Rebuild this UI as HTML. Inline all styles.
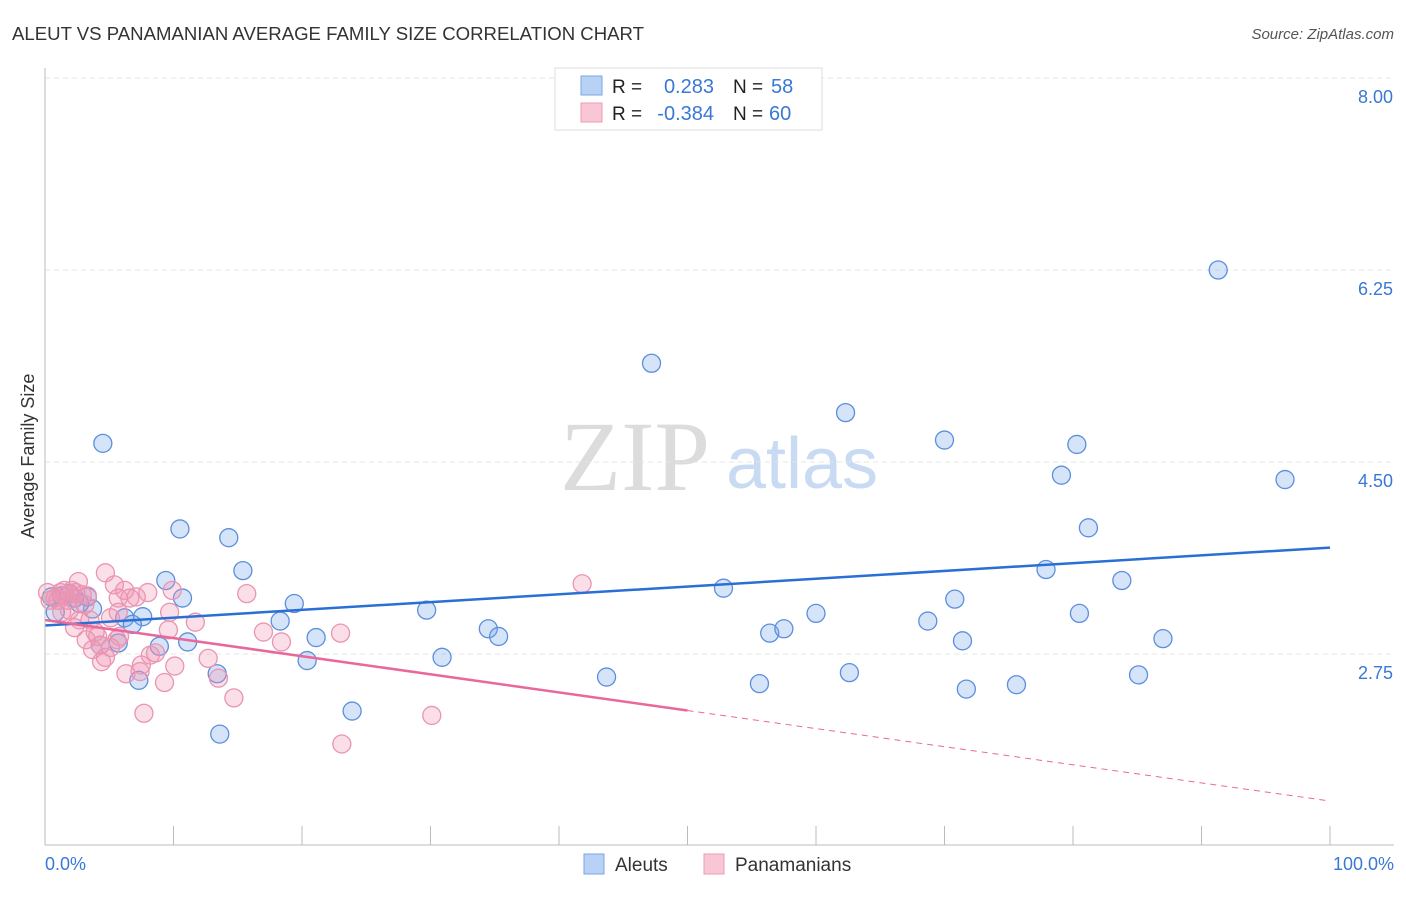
<!DOCTYPE html>
<html><head><meta charset="utf-8"><style>
body{margin:0;background:#fff;font-family:"Liberation Sans",sans-serif;}
svg text{font-family:"Liberation Sans",sans-serif;}
svg text.serif{font-family:"Liberation Serif",serif;}
</style></head><body>
<svg id="c" width="1406" height="892" xmlns="http://www.w3.org/2000/svg">
<text x="12" y="40" font-size="18.6" fill="#333">ALEUT VS PANAMANIAN AVERAGE FAMILY SIZE CORRELATION CHART</text>
<text x="1394" y="39" font-size="15" fill="#555" font-style="italic" text-anchor="end">Source: ZipAtlas.com</text>
<text class="serif" x="635" y="490" font-size="100" fill="#dcdcdc" text-anchor="middle">ZIP</text>
<text x="802" y="488" font-size="72" fill="#c9daf3" text-anchor="middle">atlas</text>
<text transform="translate(34,456) rotate(-90)" font-size="18" fill="#333" text-anchor="middle">Average Family Size</text>
<g id="grid"></g><g id="pts"></g><g id="trend"></g>
<line x1="45" y1="68" x2="45" y2="845" stroke="#bbb"/>
<line x1="45" y1="845" x2="1394" y2="845" stroke="#bbb"/>
<text x="45" y="870" font-size="18" fill="#3a78d6">0.0%</text>
<text x="1394" y="870" font-size="18" fill="#3a78d6" text-anchor="end">100.0%</text>
<g>
<rect x="555" y="68" width="267" height="62" fill="#fff" stroke="#ddd"/>
<rect x="581" y="76" width="21" height="19" fill="#b8d2f5" stroke="#7aa6e4"/>
<rect x="581" y="103" width="21" height="19" fill="#f9c6d5" stroke="#ee9ab3"/>
<text x="612" y="93" font-size="19" fill="#222">R =</text><text x="714" y="93" font-size="20" fill="#3a78d6" text-anchor="end">0.283</text>
<text x="733" y="93" font-size="19" fill="#222">N =</text><text x="771" y="93" font-size="20" fill="#3a78d6">58</text>
<text x="612" y="120" font-size="19" fill="#222">R =</text><text x="714" y="120" font-size="20" fill="#3a78d6" text-anchor="end">-0.384</text>
<text x="733" y="120" font-size="19" fill="#222">N =</text><text x="769" y="120" font-size="20" fill="#3a78d6">60</text>
</g>
<g>
<rect x="584" y="854" width="20" height="20" fill="#b8d2f5" stroke="#7aa6e4"/>
<text x="615" y="871" font-size="19" fill="#333">Aleuts</text>
<rect x="704" y="854" width="20" height="20" fill="#f9c6d5" stroke="#ee9ab3"/>
<text x="735" y="871" font-size="19" fill="#333">Panamanians</text>
</g>
</svg>
<script>
const yTicks=[2.75,4.50,6.25,8.00];
const yTickLabels=["2.75","4.50","6.25","8.00"];
const xTicks=[0,10,20,30,40,50,60,70,80,90,100];
const aleutX=[4.5,10.5,14.3,9.4,15.4,10.7,19.4,6.2,7.6,6.8,18.3,21.1,11.1,8.9,5.7,20.4,7.3,13.4,13.6,23.9,29.7,30.9,34.5,35.3,43.7,47.2,52.8,55.6,56.4,57.5,60.0,62.3,62.6,68.7,70.0,70.8,71.4,71.7,75.6,77.9,79.1,80.3,81.2,80.5,83.8,85.1,87.0,91.3,96.5,0.8,0.5,1.3,1.9,3.3,3.7,4.3,2.7,2.3];
const aleutY=[4.67,3.89,3.81,3.42,3.51,3.26,3.21,3.08,3.09,3.02,3.05,2.90,2.86,2.82,2.85,2.69,2.51,2.57,2.02,2.23,3.15,2.72,2.98,2.91,2.54,5.40,3.35,2.48,2.94,2.98,3.12,4.95,2.58,3.05,4.70,3.25,2.87,2.43,2.47,3.52,4.38,4.66,3.90,3.12,3.42,2.56,2.89,6.25,4.34,3.13,3.27,3.28,3.30,3.27,3.16,2.83,3.21,3.26];
const panX=[0.2,0.8,1.2,1.6,2.1,1.8,2.6,2.9,3.1,3.3,2.7,3.5,3.9,4.1,4.3,3.7,4.4,4.7,4.7,5.4,5.7,6.2,6.6,7.1,8.0,9.9,5.8,5.6,5.7,9.7,9.6,8.2,8.6,7.5,7.4,6.3,9.3,10.1,12.7,11.7,13.5,14.7,7.7,15.7,17.0,18.4,23.0,23.1,30.1,41.8,1.3,1.9,2.3,3.2,5.1,1.0,0.4,1.5,2.4,5.1];
const panY=[3.31,3.26,3.31,3.28,3.33,3.24,3.41,3.29,3.20,3.28,3.06,3.06,2.95,2.91,2.83,2.79,2.68,2.72,3.49,3.38,3.26,3.33,3.26,3.27,3.31,3.33,2.91,2.88,3.13,3.13,2.97,2.74,2.76,2.65,2.59,2.57,2.49,2.64,2.71,3.04,2.53,2.35,2.21,3.30,2.95,2.86,2.94,1.93,2.19,3.39,3.13,3.15,2.99,2.88,2.81,3.24,3.24,3.33,3.31,3.08];
const aleutTrend=[3.01,3.72];
const panTrend=[3.06,1.41];
const panSolidEnd=50;
const NS="http://www.w3.org/2000/svg";
const X=v=>45+v*12.85;
const Y=v=>78+(8-v)/1.75*192;
function mk(tag,attrs,parent){const e=document.createElementNS(NS,tag);for(const k in attrs)e.setAttribute(k,attrs[k]);document.getElementById(parent).appendChild(e);return e;}
yTicks.forEach((t,i)=>{
 const l=mk('line',{x1:45,x2:1394,y1:Y(t),y2:Y(t),stroke:'#e4e4e4','stroke-dasharray':'5,4'},'grid');
 
 
 const tx=mk('text',{x:1393,y:Y(t)+25,'font-size':18,fill:'#3a78d6','text-anchor':'end'},'grid');
 tx.textContent=yTickLabels[i];
 
 
});
xTicks.forEach(t=>{
 const l=mk('line',{x1:X(t),x2:X(t),y1:826,y2:845,stroke:'#bbb'},'grid');
 
 
});
aleutX.forEach((x,i)=>{
 const c=mk('circle',{cx:X(x),cy:Y(aleutY[i]),r:9,fill:'rgba(120,165,235,0.3)',stroke:'#5b8fdc','stroke-width':1.3},'pts');
 
 
});
panX.forEach((x,i)=>{
 const c=mk('circle',{cx:X(x),cy:Y(panY[i]),r:9,fill:'rgba(242,150,180,0.3)',stroke:'#ea94b0','stroke-width':1.3},'pts');
 
 
});
const bl=mk('line',{x1:X(0),y1:Y(aleutTrend[0]),x2:X(100),y2:Y(aleutTrend[1]),stroke:'#2a6fd6','stroke-width':2.5},'trend');


const pm=panTrend[0]+(panTrend[1]-panTrend[0])*panSolidEnd/100;
const pl=mk('line',{x1:X(0),y1:Y(panTrend[0]),x2:X(panSolidEnd),y2:Y(pm),stroke:'#e8689a','stroke-width':2.5},'trend');


const pd=mk('line',{x1:X(panSolidEnd),y1:Y(pm),x2:X(100),y2:Y(panTrend[1]),stroke:'#e8689a','stroke-width':1,'stroke-dasharray':'6,5'},'trend');


</script>
</body></html>
